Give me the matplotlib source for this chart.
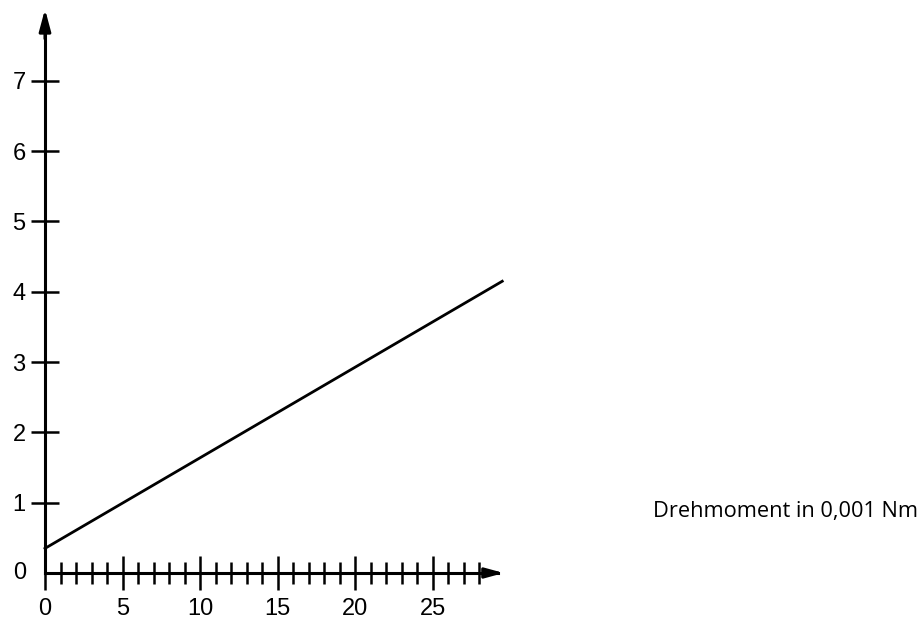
import matplotlib
matplotlib.use("Agg")
import matplotlib.pyplot as plt
import numpy as np

# Data
x_line = [0, 29.5]
y_line = [0.35, 4.15]
x_major = [0, 5, 10, 15, 20, 25]
x_minor = list(range(0, 29))
y_major = [1, 2, 3, 4, 5, 6, 7]
label_text = "Drehmoment in 0,001 Nm"

W, H = 921, 619
fig = plt.figure(figsize=(W / 100, H / 100), dpi=100)
ax = fig.add_axes([0, 0, 1, 1])

px_x = 15.5   # pixels per x unit
px_y = 70.3   # pixels per y unit
x0_px, y0_px = 45, 573  # origin in image pixels (from top-left)
ax.set_xlim(-x0_px / px_x, (W - x0_px) / px_x)
ax.set_ylim(-(H - y0_px) / px_y, y0_px / px_y)

for s in ["top", "right"]:
    ax.spines[s].set_visible(False)
ax.spines["left"].set_position(("data", 0))
ax.spines["bottom"].set_position(("data", 0))
ax.spines["left"].set_bounds(0, 7.9)
ax.spines["bottom"].set_bounds(0, 29.2)
for s in ["left", "bottom"]:
    ax.spines[s].set_linewidth(2.2)
    ax.spines[s].set_color("black")

# arrow heads
ax.annotate("", xy=(0, 8.02), xytext=(0, 7.6),
            arrowprops=dict(arrowstyle="-|>,head_width=0.35,head_length=1.3",
                            color="black", lw=2.2, shrinkA=0, shrinkB=0))
ax.annotate("", xy=(29.6, 0), xytext=(28.5, 0),
            arrowprops=dict(arrowstyle="-|>,head_width=0.3,head_length=1.1",
                            color="black", lw=2.2, shrinkA=0, shrinkB=0))

ax.set_xticks(x_major)
ax.set_xticks(x_minor, minor=True)
ax.set_yticks(y_major)
ax.tick_params(axis="x", which="major", direction="inout", length=24, width=1.8,
               labelsize=17, pad=6)
ax.tick_params(axis="x", which="minor", direction="inout", length=16, width=1.8)
ax.tick_params(axis="y", which="major", direction="inout", length=20, width=1.8,
               labelsize=17, pad=4)
ax.set_xticklabels([str(v) for v in x_major], fontfamily="Liberation Sans")
ax.set_yticklabels([str(v) for v in y_major], fontfamily="Liberation Sans")

# origin label "0" on y
ax.text(-25 / px_x, 0, "0", fontsize=17, fontfamily="Liberation Sans",
        ha="center", va="center")

ax.plot(x_line, y_line, color="black", lw=2.0)

fig.text(653 / W, 1 - 512 / H, label_text, fontsize=15.7, fontfamily="Open Sans",
         ha="left", va="center")

fig.savefig("out.png", dpi=100, facecolor="white")
